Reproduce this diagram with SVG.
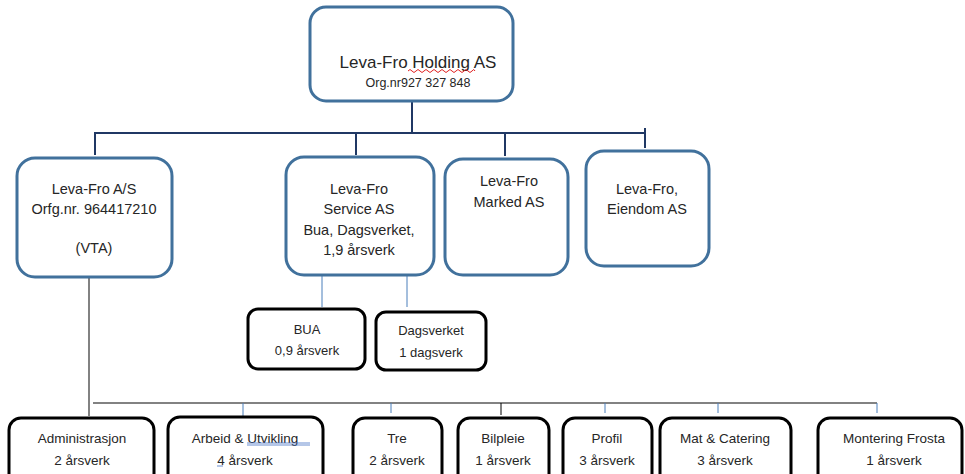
<svg xmlns="http://www.w3.org/2000/svg" width="965" height="474" viewBox="0 0 965 474">
<style>
.big{fill:#fff;stroke:#41719C;stroke-width:3}
.sm{fill:#fff;stroke:#000;stroke-width:3}
text{font-family:"Liberation Sans",Arial,sans-serif;fill:#262626;text-anchor:middle}
.t15{font-size:14.5px}
.t13{font-size:13px}
.t14{font-size:13.5px}
.nav{stroke:#203864;stroke-width:2;fill:none}
.gry{stroke:#595959;stroke-width:1.5;fill:none}
.blu{stroke:#4A7EBB;stroke-width:1;fill:none}
</style>
<defs>
<clipPath id="dclip"><rect x="376" y="312" width="110" height="47.5"/></clipPath>
</defs>
<rect width="965" height="474" fill="#fff"/>
<g id="connectors">
<path class="nav" d="M412 101V133M95 155V133H645M645 128V148M356 133V155M505 133V156"/>
<path class="blu" d="M322 275V307M407 275V307"/>
<path class="gry" d="M89 277V416M93 403H877"/>
<path class="blu" d="M243 403V416M391 403V413M605 403V413M718 403V413M877 403V413"/>
<path stroke="#000" stroke-width="1" d="M501 403V415"/>
</g>
<g id="holding">
<rect class="big" x="310" y="7" width="203" height="94" rx="16"/>
<text x="418" y="68" style="font-size:17px">Leva-Fro Holding AS</text>
<path d="M408 71q2-3 4 0t4 0t4 0t4 0t4 0t4 0t4 0t4 0t4 0t4 0t4 0t4 0t4 0t4 0t4 0t4 0t3 0" stroke="#E02020" stroke-width="1" fill="none"/>
<text x="418" y="87" style="font-size:12.5px">Org.nr927 327 848</text>
</g>
<g id="levafro-as">
<rect class="big" x="17" y="158" width="155" height="119" rx="18"/>
<text class="t15" x="94" y="194">Leva-Fro A/S</text>
<text class="t15" x="94" y="214">Orfg.nr. 964417210</text>
<text class="t15" x="94" y="253">(VTA)</text>
</g>
<g id="service">
<rect class="big" x="286" y="157" width="148" height="118" rx="18"/>
<text class="t15" x="359" y="194">Leva-Fro</text>
<text class="t15" x="359" y="214">Service AS</text>
<text class="t15" x="359" y="235">Bua, Dagsverket,</text>
<text class="t15" x="359" y="255">1,9 årsverk</text>
</g>
<g id="marked">
<rect class="big" x="445" y="159" width="123" height="116" rx="18"/>
<text class="t15" x="509" y="186">Leva-Fro</text>
<text class="t15" x="509" y="207">Marked AS</text>
</g>
<g id="eiendom">
<rect class="big" x="586" y="151" width="123" height="115" rx="18"/>
<text class="t15" x="647" y="194">Leva-Fro,</text>
<text class="t15" x="647" y="214">Eiendom AS</text>
</g>
<g id="bua">
<rect class="sm" x="248" y="309" width="117" height="60" rx="10"/>
<text class="t13" x="307" y="334">BUA</text>
<text class="t13" x="307" y="355">0,9 årsverk</text>
</g>
<g id="dagsverket">
<rect class="sm" x="376" y="312" width="110" height="58" rx="10"/>
<g clip-path="url(#dclip)">
<text class="t13" x="431" y="335">Dagsverket</text>
<text class="t13" x="431" y="357">1 dagsverk</text>
</g>
</g>
<g id="administrasjon">
<rect class="sm" x="9" y="418" width="145" height="80" rx="12"/>
<text class="t14" x="82" y="443">Administrasjon</text>
<text class="t14" x="82" y="465">2 årsverk</text>
</g>
<g id="arbeid">
<rect class="sm" x="168" y="417" width="155" height="80" rx="12"/>
<text class="t14" x="245" y="443">Arbeid &amp; Utvikling</text>
<text class="t14" x="245" y="465">4 årsverk</text>
<path d="M247 443H310M247 445H310M217 466H223" stroke="#4472C4" stroke-width="0.8" fill="none"/>
</g>
<g id="tre">
<rect class="sm" x="353" y="418" width="89" height="80" rx="12"/>
<text class="t14" x="397" y="443">Tre</text>
<text class="t14" x="397" y="465">2 årsverk</text>
</g>
<g id="bilpleie">
<rect class="sm" x="458" y="418" width="91" height="80" rx="12"/>
<text class="t14" x="503" y="443">Bilpleie</text>
<text class="t14" x="503" y="465">1 årsverk</text>
</g>
<g id="profil">
<rect class="sm" x="563" y="418" width="89" height="80" rx="12"/>
<text class="t14" x="607" y="443">Profil</text>
<text class="t14" x="607" y="465">3 årsverk</text>
</g>
<g id="mat">
<rect class="sm" x="660" y="418" width="131" height="80" rx="12"/>
<text class="t14" x="725" y="443">Mat &amp; Catering</text>
<text class="t14" x="725" y="465">3 årsverk</text>
</g>
<g id="montering">
<rect class="sm" x="818" y="418" width="144" height="80" rx="12"/>
<text class="t14" x="894" y="443">Montering Frosta</text>
<text class="t14" x="894" y="465">1 årsverk</text>
</g>
</svg>
